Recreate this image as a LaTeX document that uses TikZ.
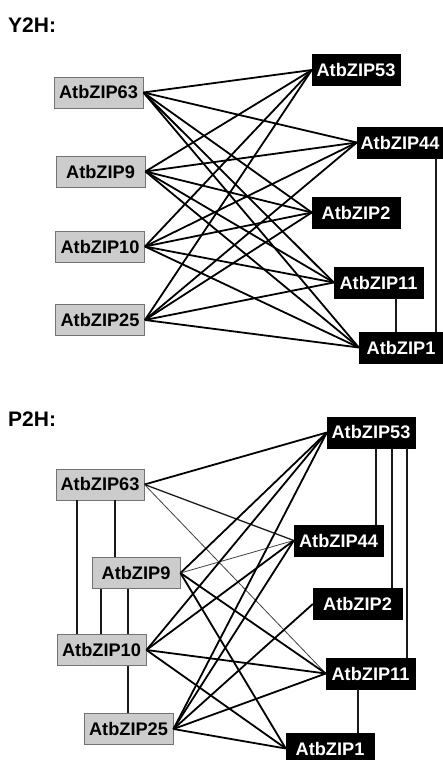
\documentclass[tikz,border=0pt]{standalone}
\usepackage{fontspec}
\setmainfont{Liberation Sans}
\begin{document}
\begin{tikzpicture}[x=1pt,y=-1pt,
  gbox/.style={draw=black!55,fill=black!20,line width=0.9pt,minimum width=89pt,minimum height=31pt,inner sep=0pt,font=\fontsize{18.2}{19}\selectfont\bfseries},
  bbox/.style={draw=black,fill=black,text=white,minimum width=88pt,minimum height=31pt,inner sep=0pt,font=\fontsize{18.2}{19}\selectfont\bfseries},
  ttl/.style={anchor=west,inner sep=0pt,font=\fontsize{21}{23}\selectfont\bfseries},
  lnk/.style={line width=1.8pt,black},
  thn/.style={line width=0.8pt,black!75},
  vln/.style={line width=1.3pt,black!90}]
\useasboundingbox (0,0) rectangle (443,760);
% ---------------- Y2H ----------------
\node[ttl] (t1) at (8,25) {Y2H:};
\node[gbox] (a63) at (98.5,92.5) {AtbZIP63};
\node[gbox] (a9)  at (100.5,171.5) {AtbZIP9};
\node[gbox] (a10) at (100,246.5) {AtbZIP10};
\node[gbox] (a25) at (100,320) {AtbZIP25};
\node[bbox] (b53) at (356,70) {AtbZIP53};
\node[bbox,minimum width=86pt] (b44) at (400,142.5) {AtbZIP44};
\node[bbox] (b2)  at (356,212.5) {AtbZIP2};
\node[bbox,minimum width=89pt] (b11) at (378.5,282.5) {AtbZIP11};
\node[bbox,minimum width=84pt] (b1)  at (401,347.5) {AtbZIP1};
\foreach \l in {a63,a9,a10,a25}{
  \foreach \r in {b53,b44,b2,b11,b1}{
    \draw[lnk] (\l.east) -- (\r.west);
  }
}
\draw[vln] ([xshift=17.5pt]b11.south) -- ([xshift=-5pt]b1.north);
\draw[vln] ([xshift=36pt]b44.south) -- ([xshift=35pt]b1.north);
% ---------------- P2H ----------------
\node[ttl] (t2) at (8,419) {P2H:};
\node[gbox,minimum width=88pt] (c63) at (100,484.5) {AtbZIP63};
\node[gbox,minimum width=88pt] (c9)  at (136,573) {AtbZIP9};
\node[gbox] (c10) at (101.5,650) {AtbZIP10};
\node[gbox] (c25) at (128.5,729) {AtbZIP25};
\node[bbox] (d53) at (371,432.5) {AtbZIP53};
\node[bbox,minimum width=89pt] (d44) at (338.5,540.5) {AtbZIP44};
\node[bbox,minimum width=89pt] (d2)  at (357.5,604) {AtbZIP2};
\node[bbox,minimum width=89pt] (d11) at (370.5,673.5) {AtbZIP11};
\node[bbox] (d1)  at (330,748.5) {AtbZIP1};
% diagonal links
\draw[lnk] (c63.east) -- (d53.west);
\draw[line width=1.3pt,black!90] (c63.east) -- (d44.west);
\draw[thn] (c63.east) -- (d11.west);
\draw[lnk] (c9.east) -- (d53.west);
\draw[thn] (c9.east) -- (d44.west);
\draw[lnk] (c9.east) -- (d11.west);
\draw[lnk] (c9.east) -- (d1.west);
\foreach \r in {d53,d44,d11,d1}{
  \draw[lnk] (c10.east) -- (\r.west);
}
\foreach \r in {d53,d44,d2,d11,d1}{
  \draw[lnk] (c25.east) -- (\r.west);
}
% vertical links
\draw[vln] ([xshift=-23pt]c63.south) -- ([xshift=-24.5pt]c10.north);
\draw[vln] ([xshift=15pt]c63.south) -- ([xshift=-21pt]c9.north);
\draw[vln] ([xshift=-35pt]c9.south) -- ([xshift=-0.5pt]c10.north);
\draw[vln] ([xshift=-8pt]c9.south) -- ([xshift=26.5pt]c10.north);
\draw[vln] ([xshift=26.5pt]c10.south) -- ([xshift=-0.5pt]c25.north);
\draw[vln] ([xshift=5pt]d53.south) -- ([xshift=37.5pt]d44.north);
\draw[vln] ([xshift=21pt]d53.south) -- ([xshift=34.5pt]d2.north);
\draw[vln] ([xshift=36pt]d53.south) -- ([xshift=36.5pt]d11.north);
\draw[vln] ([xshift=-12.5pt]d11.south) -- ([xshift=28pt]d1.north);
\end{tikzpicture}
\end{document}
